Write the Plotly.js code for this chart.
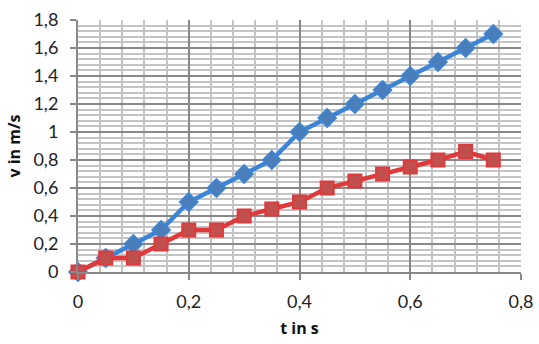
<!DOCTYPE html>
<html>
<head>
<meta charset="utf-8">
<script src="https://cdn.plot.ly/plotly-3.0.1.min.js"></script>
<style>html,body{margin:0;padding:0;background:#fff}#chart{width:539px;height:344px}</style>
</head>
<body>
<div id="chart"></div>
<script>
const tValues = [0, 0.05, 0.1, 0.15, 0.2, 0.25, 0.3, 0.35, 0.4, 0.45, 0.5, 0.55, 0.6, 0.65, 0.7, 0.75];
const vBlue = [0, 0.1, 0.2, 0.3, 0.5, 0.6, 0.7, 0.8, 1.0, 1.1, 1.2, 1.3, 1.4, 1.5, 1.6, 1.7];
const vRed  = [0, 0.1, 0.1, 0.2, 0.3, 0.3, 0.4, 0.45, 0.5, 0.6, 0.65, 0.7, 0.75, 0.8, 0.86, 0.8];
const xTickVals = [0, 0.2, 0.4, 0.6, 0.8];
const xTickText = ["0", "0,2", "0,4", "0,6", "0,8"];
const yTickVals = [0, 0.2, 0.4, 0.6, 0.8, 1, 1.2, 1.4, 1.6, 1.8];
const yTickText = ["0", "0,2", "0,4", "0,6", "0,8", "1", "1,2", "1,4", "1,6", "1,8"];
const xTitle = "t in s";
const yTitle = "v in m/s";

const traces = [
  {
    x: tValues, y: vBlue, type: "scatter", mode: "lines+markers",
    line: {color: "#3b85d8", width: 4.5},
    marker: {symbol: "diamond", size: 14, color: "#4a7ebb", line: {color: "#3b85d8", width: 1.5}},
    showlegend: false, cliponaxis: false
  },
  {
    x: tValues, y: vRed, type: "scatter", mode: "lines+markers",
    line: {color: "#e0393b", width: 4.5},
    marker: {symbol: "square", size: 13, color: "#c0504d", line: {color: "#e0393b", width: 2}},
    showlegend: false, cliponaxis: false
  }
];

const tickFont = {family: "Lato, 'Open Sans', sans-serif", size: 18, color: "#222"};
const titleFont = {family: "'Open Sans', sans-serif", size: 16, color: "#111"};

const layout = {
  width: 539, height: 344,
  margin: {l: 78, r: 18, t: 20, b: 72},
  paper_bgcolor: "#fff", plot_bgcolor: "#fff",
  separators: ",.",
  font: tickFont,
  xaxis: {
    range: [0, 0.8], tickvals: xTickVals, ticktext: xTickText,
    ticks: "outside", ticklen: 6, tickwidth: 2, tickcolor: "#888",
    ticklabelstandoff: 6,
    showgrid: true, gridcolor: "#888", gridwidth: 2,
    minor: {dtick: 0.04, tick0: 0, showgrid: true, gridcolor: "#c4c4c4", gridwidth: 2, ticks: ""},
    zeroline: false, showline: true, linecolor: "#888", linewidth: 2,
    tickfont: tickFont,
    title: {text: "<b>" + xTitle + "</b>", font: titleFont, standoff: 12}
  },
  yaxis: {
    range: [0, 1.8], tickvals: yTickVals, ticktext: yTickText,
    ticks: "outside", ticklen: 6, tickwidth: 2, tickcolor: "#888",
    ticklabelstandoff: 8,
    showgrid: true, gridcolor: "#888", gridwidth: 2,
    minor: {dtick: 0.04, tick0: 0, showgrid: true, gridcolor: "#c4c4c4", gridwidth: 2, ticks: ""},
    zeroline: false, showline: true, linecolor: "#888", linewidth: 2,
    tickfont: tickFont,
    title: {text: "<b>" + yTitle + "</b>", font: titleFont, standoff: 9}
  }
};

Plotly.newPlot("chart", traces, layout, {displayModeBar: false, staticPlot: true});
</script>
</body>
</html>
